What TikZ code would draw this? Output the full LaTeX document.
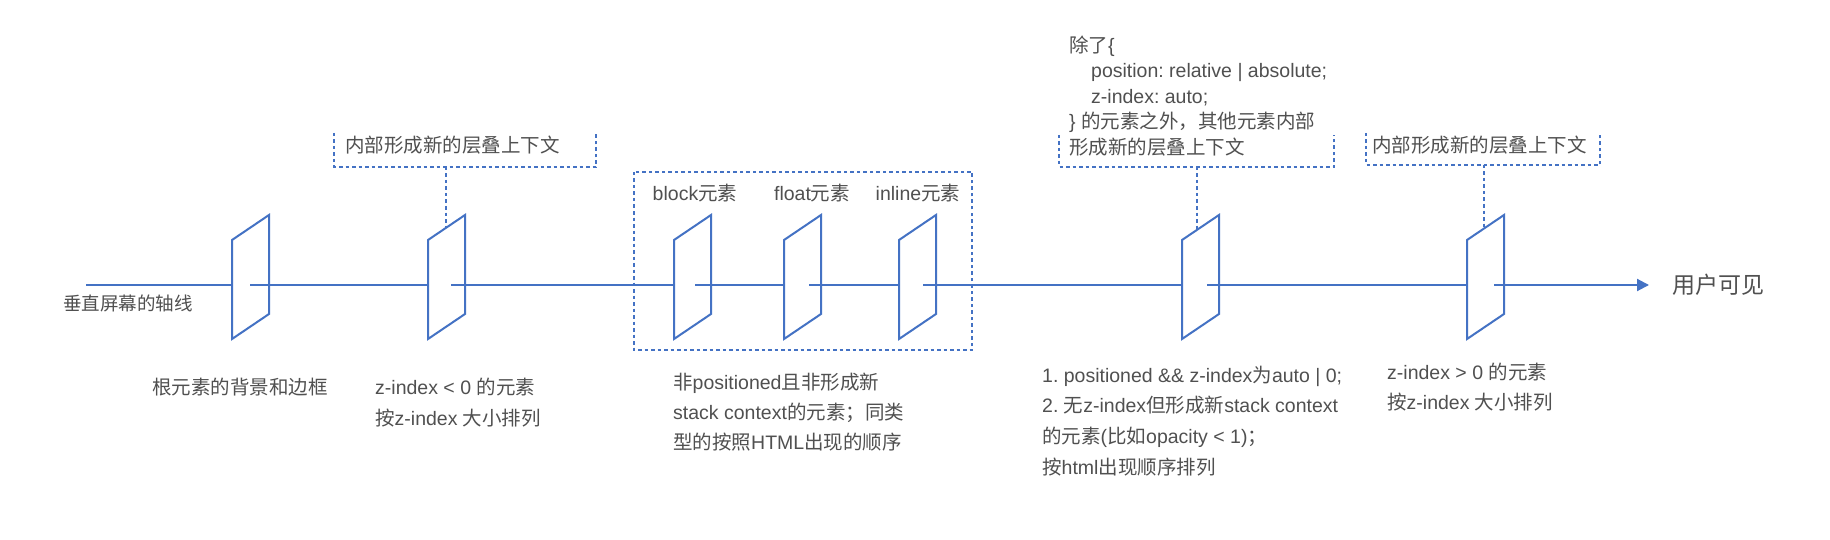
\documentclass[tikz,border=0pt]{standalone}
\usepackage{fontspec}
\setmainfont{Liberation Sans}
\newfontfamily\cjkfont{Noto Sans CJK SC}
\newcommand\zh[1]{{\cjkfont #1}}
\usetikzlibrary{arrows.meta}
\definecolor{lineblue}{HTML}{4472C4}
\definecolor{txtgray}{HTML}{505050}
\frenchspacing
\newcommand\drawplate[4]{%
  \draw[platebox] (#2,240) -- (#2+37,215) -- (#2+37,314) -- (#2,339) -- cycle;
  \coordinate (#1-l) at (#2,285);
  \coordinate (#1-r) at (#2+#3,285);
  \coordinate (#1-t) at (#2+#4,{240-25*#4/37});
}
\begin{document}
\begin{tikzpicture}[x=1pt,y=-1pt,
  axis/.style={lineblue, line width=2pt},
  platebox/.style={lineblue, line width=2pt, line join=miter},
  callout/.style={lineblue, line width=1.6pt, dash pattern=on 3.5pt off 3pt},
  txt/.style={text=txtgray, inner sep=0pt, font=\frenchspacing\fontsize{19.5}{31}\selectfont, align=left, anchor=north west},
]
\useasboundingbox[fill=white] (0,0) rectangle (1830,540);

% plates
\drawplate{pa}{232}{18}{0}
\drawplate{pb}{428}{23}{18}
\drawplate{pc}{674}{21}{0}
\drawplate{pd}{784}{25}{0}
\drawplate{pe}{899}{24}{0}
\drawplate{pf}{1182}{25}{15}
\drawplate{pg}{1467}{27}{17}

% axis
\coordinate (axstart) at (86,285);
\coordinate (axend) at (1649,285);
\draw[axis] (axstart) -- (pa-l) (pa-r) -- (pb-l) (pb-r) -- (pc-l) (pc-r) -- (pd-l)
  (pd-r) -- (pe-l) (pe-r) -- (pf-l) (pf-r) -- (pg-l);
\draw[axis, -{Triangle[length=12pt,width=12pt]}] (pg-r) -- (axend);
\node[txt, anchor=west, font=\fontsize{23}{28}\selectfont] (vis) at (1672,285) {\zh{用户可见}};
\node[txt, anchor=west, font=\fontsize{18.5}{24}\selectfont] (axlbl) at (63,303) {\zh{垂直屏幕的轴线}};

% callout A
\coordinate (ba) at (0,167);
\draw[callout] (334,133) -- (334,167) -- (596,167) -- (596,133);
\draw[callout] (pb-t |- ba) -- (pb-t);
\node[txt, anchor=west] (ta) at (345,145) {\zh{内部形成新的层叠上下文}};

% callout B
\draw[callout] (1059,135) -- (1059,167) -- (1334,167) -- (1334,135);
\draw[callout] (pf-t |- ba) -- (pf-t);
\node[txt, font=\frenchspacing\fontsize{19.5}{25.5}\selectfont] (tb) at (1069,35.5)
  {\zh{除了}\{\\\hspace*{22pt}position: relative | absolute;\\\hspace*{22pt}z-index: auto;\\\} \zh{的元素之外，其他元素内部}\\\zh{形成新的层叠上下文}};

% callout C
\coordinate (bc) at (0,165);
\draw[callout] (1366,133) -- (1366,165) -- (1600,165) -- (1600,133);
\draw[callout] (pg-t |- bc) -- (pg-t);
\node[txt, anchor=west] (tc) at (1372,145) {\zh{内部形成新的层叠上下文}};

% middle group
\draw[callout] (634,172) rectangle (972,350);
\node[txt, anchor=center] (lb) at (695,193) {block\zh{元素}};
\node[txt, anchor=center] (lf) at (812,193) {float\zh{元素}};
\node[txt, anchor=center] (li) at (918,193) {inline\zh{元素}};

% bottom descriptions
\node[txt, anchor=west] (d1) at (152,387) {\zh{根元素的背景和边框}};
\node[txt] (d2) at (375,377.5) {z-index < 0 \zh{的元素}\\\zh{按}z-index \zh{大小排列}};
\node[txt, font=\frenchspacing\fontsize{19.5}{30}\selectfont] (d3) at (673,372.5)
  {\zh{非}positioned\zh{且非形成新}\\stack context\zh{的元素；同类}\\\zh{型的按照}HTML\zh{出现的顺序}};
\node[txt, font=\frenchspacing\fontsize{19.5}{30.7}\selectfont] (d4) at (1042,365.5)
  {1. positioned \&\& z-index\zh{为}auto | 0;\\2. \zh{无}z-index\zh{但形成新}stack context\\\zh{的元素}(\zh{比如}opacity < 1)\zh{；}\\\zh{按}html\zh{出现顺序排列}};
\node[txt, font=\frenchspacing\fontsize{19.5}{30}\selectfont] (d5) at (1387,362.5)
  {z-index > 0 \zh{的元素}\\\zh{按}z-index \zh{大小排列}};
\end{tikzpicture}
\end{document}
